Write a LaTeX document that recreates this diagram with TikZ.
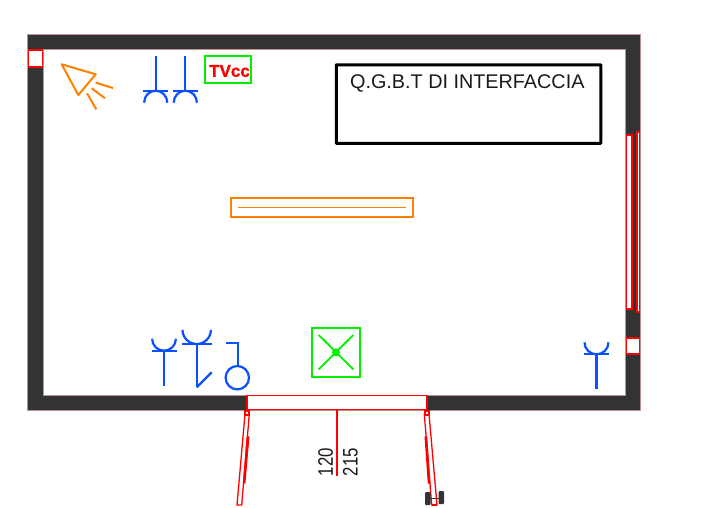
\documentclass[tikz,border=0pt]{standalone}
\usepackage{fontspec}
\setmainfont{Liberation Sans}
\newfontfamily\tvfont[BoldFeatures={FakeBold=1.2}]{Liberation Sans}
\definecolor{wallgrey}{HTML}{333333}
\definecolor{wallrim}{HTML}{C09090}
\definecolor{plugblue}{HTML}{0B50FF}
\definecolor{lampgreen}{HTML}{00F000}
\definecolor{lamporange}{HTML}{FF8000}

\begin{document}
\begin{tikzpicture}[x=1pt,y=-1pt]
    \tikzstyle{wall}=[fill=wallgrey,draw=wallrim,line width=0.4pt]
    \tikzstyle{frame}=[draw=red,fill=white,line width=1.3pt]
    \tikzstyle{leaf}=[draw=red,fill=white,line width=1.3pt]
    \tikzstyle{plug}=[draw=plugblue,line width=2.2pt]
    \tikzstyle{lamp}=[draw=lamporange,line width=2pt]
    \tikzstyle{greenbox}=[draw=lampgreen,line width=2.2pt]
    \tikzstyle{wheel}=[fill=wallgrey,rounded corners=1pt]
    \tikzstyle{panel}=[draw=black,line width=3pt,rounded corners=0.5pt,minimum width=264.5pt,minimum height=78.5pt,inner sep=0pt]
    \tikzstyle{size}=[rotate=90,anchor=south,inner sep=0pt,text=black!90]

    \useasboundingbox (0,0) rectangle (728,507);

    % Draw the walls
    \path[wall,even odd rule] (27.5,34) rectangle (640,410) (43,49.5) rectangle (625,395);

    % Draw the windows and the door opening
    \draw[frame] (28.3,50) rectangle (42.3,67);
    \draw[frame] (626.3,338) rectangle (639.3,354);
    \fill[white] (625.5,135) rectangle (639.5,309);
    \draw[frame] (626.2,135) rectangle (632,309);
    \draw[red,line width=2pt] (631.8,135) -- (631.8,309);
    \fill[wallgrey] (633,135) rectangle (636.5,309);
    \draw[frame] (637,132) rectangle (639.3,312);
    \draw[frame] (247,395.5) rectangle (427,409.5);

    % Draw the door leaves
    \draw[leaf] (245,414) -- (249.3,414) -- (241.7,505) -- (237,505) -- cycle;
    \draw[leaf] (247.2,437) -- (248.8,437) -- (244.8,483) -- (243.6,483) -- cycle;
    \draw[leaf] (245,411) rectangle (249,415);
    \draw[leaf] (424.3,414) -- (429,414) -- (437,505) -- (431.7,505) -- cycle;
    \draw[leaf] (425.2,437) -- (426.6,437) -- (429.8,483) -- (428.4,483) -- cycle;
    \draw[leaf] (425,411) rectangle (429,415);

    % Draw the wheels
    \fill[wheel] (425,492) rectangle (430.5,505);
    \fill[wheel] (438.5,491) rectangle (444,504);
    \draw[wallgrey,line width=1pt] (430,498) -- (439,498);
    \draw[red,line width=1.3pt] (431.7,505) -- (437,505);

    % Draw the door axis and the sizes
    \coordinate (axis) at (337,476);
    \draw[red,line width=1.5pt] (337,410) -- (axis);
    \node[size] (width) at (333.3,462) {\fontsize{21}{21}\selectfont\scalebox{.8}[1]{120}};
    \node[size] (height) at (358,462) {\fontsize{21}{21}\selectfont\scalebox{.8}[1]{215}};

    % Draw the emergency lamp
    \draw[lamp,line join=round] (61.7,64.3) -- (95.7,74.3) -- (78.3,95) -- cycle;
    \draw[lamp] (95.7,82.7) -- (113,88);
    \draw[lamp] (91.7,88.3) -- (105,98.3);
    \draw[lamp] (87,93.3) -- (96.3,109.3);

    % Draw the sockets on the upper wall
    \foreach \x in {155.7,185.3} {
        \draw[plug] (\x,56) -- (\x,90.7);
        \draw[plug] (\x-12.3,90.7) -- (\x+12.3,90.7);
        \draw[plug] (\x-11.6,102.7) arc (180:360:11.6 and 12);
    }

    % Draw the sockets on the lower wall
    \foreach \x / \y / \r / \e in {164/350.7/11.9/386,196.7/344/14.2/387.3,596.5/354.3/12/389} {
        \draw[plug] (\x,\y) -- (\x,\e);
        \draw[plug] (\x-\r-0.6,\y) -- (\x+\r+0.6,\y);
        \draw[plug] (\x-\r,\y-\r) arc (180:0:\r);
    }
    \draw[plug] (196.7,387.3) -- (211.7,372.3);

    % Draw the switch
    \draw[plug] (225.7,343.3) -- (238.3,343.3) -- (238.3,366);
    \draw[plug] (237.3,377.7) circle (11.7);

    % Draw the ceiling light
    \draw[lamp,line width=2.2pt] (231.3,198) rectangle (412.6,216.7);
    \draw[lamporange,line width=0.7pt] (237.5,207.3) -- (406,207.3);

    % Draw the green boxes
    \node[greenbox,minimum width=45.7pt,minimum height=27.6pt,inner sep=0pt] (TV) at (227.8,69.5) {};
    \node[inner sep=0pt,text=red] (TVtext) at (229.5,71) {\fontsize{17}{17}\selectfont\tvfont\bfseries TVcc};
    \draw[greenbox] (311.7,328.3) rectangle (360.3,376.7);
    \draw[lampgreen,line width=1.8pt] (318.7,335) -- (353.3,369.3);
    \draw[lampgreen,line width=1.8pt] (353.3,335) -- (318.7,369.3);
    \fill[lampgreen] (336,352.3) circle (4);

    % Draw the panel
    \node[panel] (Q) at (468.5,104) {};
    \node[anchor=base,inner sep=0pt,text=black!90] (Qtext) at (467.3,88) {\fontsize{19.8}{20}\selectfont Q.G.B.T DI INTERFACCIA};
\end{tikzpicture}
\end{document}
